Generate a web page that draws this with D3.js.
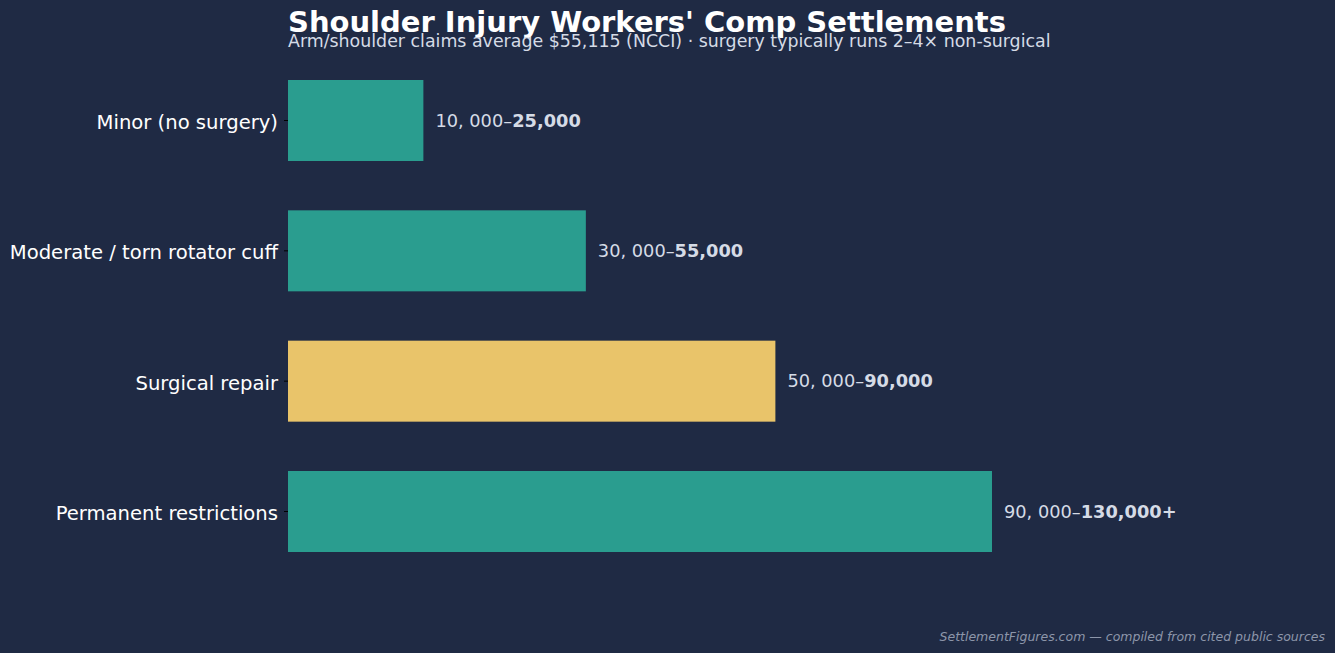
<!DOCTYPE html>
<html><head><meta charset="utf-8">
<script src="https://cdn.jsdelivr.net/npm/d3@7"></script>
<style>html,body{margin:0;padding:0;background:#1f2a44;}svg{display:block;}</style>
</head><body>
<script>
const categories = ["Minor (no surgery)", "Moderate / torn rotator cuff", "Surgical repair", "Permanent restrictions"];
const lowValues = [10000, 30000, 50000, 90000];
const highValues = [25000, 55000, 90000, 130000];
const highSuffix = ["", "", "", "+"];
const highlight = [false, false, true, false];
const title = "Shoulder Injury Workers' Comp Settlements";
const subtitle = "Arm/shoulder claims average $55,115 (NCCI) · surgery typically runs 2–4× non-surgical";
const footer = "SettlementFigures.com — compiled from cited public sources";

const W = 1335, H = 653;
const svg = d3.select("body").append("svg").attr("width", W).attr("height", H);
svg.append("rect").attr("width", W).attr("height", H).attr("fill", "#1f2a44");

const x = d3.scaleLinear().domain([0, 150000]).range([288, 288 + 812.3]);
const y = d3.scaleLinear().domain([0, 3]).range([120.5, 511.5]);
const barH = 81;
const fmt = d3.format(",");

const g = svg.append("g");
g.selectAll("rect.bar").data(categories).join("rect")
  .attr("class", "bar")
  .attr("x", x(0))
  .attr("y", (d, i) => y(i) - barH / 2)
  .attr("width", (d, i) => x(highValues[i]) - x(0))
  .attr("height", barH)
  .attr("fill", (d, i) => highlight[i] ? "#e9c46a" : "#2a9d8f");

// y axis ticks and labels
const ax = svg.append("g");
ax.selectAll("line").data(categories).join("line")
  .attr("x1", x(0) - 4).attr("x2", x(0))
  .attr("y1", (d, i) => y(i)).attr("y2", (d, i) => y(i))
  .attr("stroke", "#000").attr("stroke-width", 1);
ax.selectAll("text").data(categories).join("text")
  .attr("x", x(0) - 10).attr("y", (d, i) => y(i) + 1.5)
  .attr("dy", "0.35em")
  .attr("text-anchor", "end")
  .attr("font-family", "DejaVu Sans")
  .attr("font-size", 19.6)
  .attr("fill", "#ffffff")
  .text(d => d);

// value labels
const lab = svg.append("g");
categories.forEach((c, i) => {
  const t = lab.append("text")
    .attr("x", x(highValues[i]) + 12).attr("y", y(i)).attr("dy", "0.35em")
    .attr("font-family", "DejaVu Sans").attr("font-size", 17.8)
    .attr("fill", "#d5dbe6");
  t.append("tspan").text(fmt(lowValues[i]).replace(",", ", ") + "–");
  t.append("tspan").attr("font-weight", "bold").text(fmt(highValues[i]) + highSuffix[i]);
});

svg.append("text").attr("x", 288).attr("y", 32)
  .attr("font-family", "DejaVu Sans").attr("font-weight", "bold").attr("font-size", 29)
  .attr("fill", "#ffffff").text(title);
svg.append("text").attr("x", 288).attr("y", 47)
  .attr("font-family", "DejaVu Sans").attr("font-size", 17.4)
  .attr("fill", "#d5dbe6").text(subtitle);
svg.append("text").attr("x", 1325).attr("y", 641)
  .attr("text-anchor", "end")
  .attr("font-family", "DejaVu Sans").attr("font-style", "italic").attr("font-size", 12.5)
  .attr("fill", "#8d96aa").text(footer);
</script>
</body></html>
